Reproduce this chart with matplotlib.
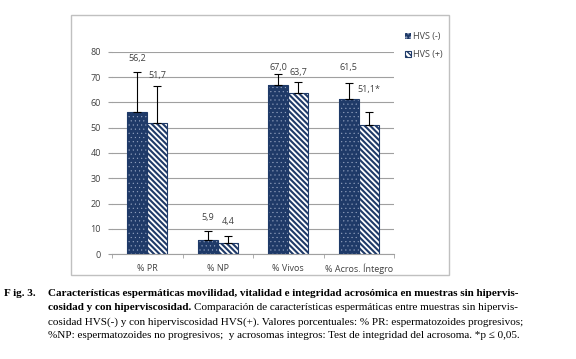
import matplotlib.pyplot as plt
import numpy as np
from matplotlib.patches import Rectangle

categories = ['% PR', '% NP', '% Vivos', '% Acros. Íntegro']
hvs_neg = [56.2, 5.6, 67.0, 61.5]
hvs_pos = [51.7, 4.2, 63.7, 51.1]
err_neg = [15.8, 3.4, 4.2, 6.2]
err_pos = [15.0, 2.8, 4.3, 5.1]
labels_neg = ['56,2', '5,9', '67,0', '61,5']
labels_pos = ['51,7', '4,4', '63,7', '51,1*']
label_y_neg = [77.5, 14.5, 73.8, 73.8]
label_y_pos = [70.5, 13.0, 71.7, 65.0]

navy = '#1f3a68'
txt = '#404040'

fig = plt.figure(figsize=(5.76, 3.59), dpi=100)
fig.patches.append(Rectangle((71 / 576, 1 - 275 / 359), 378 / 576, 260 / 359,
                             transform=fig.transFigure, fill=False,
                             edgecolor='#c0c0c0', linewidth=1.0))

ax = fig.add_axes([112 / 576, 1 - 254 / 359, 282 / 576, 202 / 359])
x = np.arange(len(categories))
w = 0.285

# dark bars with white dots
bars = ax.bar(x - w / 2, hvs_neg, w, color=navy, edgecolor='#9aa8c4', hatch='....',
              linewidth=0, zorder=3, label='HVS (-)')
for p in bars:
    p.set_hatch_linewidth(0.3)
ax.bar(x - w / 2, hvs_neg, w, fill=False, edgecolor=navy, linewidth=0.8, zorder=4)
# white bars with navy stripes
bars = ax.bar(x + w / 2, hvs_pos, w, color='white', edgecolor=navy, hatch='\\\\\\\\\\\\',
              linewidth=0.8, zorder=3, label='HVS (+)')
for p in bars:
    p.set_hatch_linewidth(1.5)

ax.errorbar(x - w / 2, hvs_neg, yerr=[np.zeros(4), err_neg], fmt='none',
            ecolor='black', elinewidth=0.8, capsize=3, capthick=0.8, zorder=5)
ax.errorbar(x + w / 2, hvs_pos, yerr=[np.zeros(4), err_pos], fmt='none',
            ecolor='black', elinewidth=0.8, capsize=3, capthick=0.8, zorder=5)

for i in range(len(categories)):
    ax.text(x[i] - w / 2, label_y_neg[i], labels_neg[i], ha='center', va='center',
            fontsize=6.5, color=txt, family='Open Sans')
    ax.text(x[i] + w / 2, label_y_pos[i], labels_pos[i], ha='center', va='center',
            fontsize=6.5, color=txt, family='Open Sans')

ax.set_ylim(0, 80)
ax.set_xlim(-0.5, 3.5)
ax.set_yticks(range(0, 81, 10))
ax.set_xticks(x)
ax.set_xticklabels(categories)
ax.set_xticks(np.arange(-0.5, 4, 1), minor=True)
ax.tick_params(axis='x', which='major', length=0, pad=7)
ax.tick_params(axis='x', which='minor', length=3, color='#a0a0a0')
ax.tick_params(axis='y', length=3, color='#a0a0a0', pad=5)
for lab in ax.get_xticklabels() + ax.get_yticklabels():
    lab.set_fontsize(6.5)
    lab.set_color(txt)
    lab.set_family('Open Sans')
ax.yaxis.grid(True, color='#a0a0a0', linewidth=0.8, zorder=0)
ax.set_axisbelow(True)
for s in ['top', 'right', 'left']:
    ax.spines[s].set_visible(False)
ax.spines['bottom'].set_color('#a0a0a0')

leg = fig.legend(loc='upper left', bbox_to_anchor=(397 / 576, 1 - 24 / 359),
                 frameon=False, handlelength=0.7, handleheight=0.7,
                 handletextpad=0.2, labelspacing=1.0,
                 prop={'family': 'Open Sans', 'size': 6.5})
for t in leg.get_texts():
    t.set_color(txt)

# caption
fs = 8
fig.text(4 / 576, 1 - 294 / 359, 'F ig. 3.', fontsize=fs, family='Liberation Serif',
         weight='bold', va='center')
x0 = 48 / 576
fig.text(x0, 1 - 294 / 359,
         'Características espermáticas movilidad, vitalidad e integridad acrosómica en muestras sin hipervis-',
         fontsize=fs, family='Liberation Serif', weight='bold', va='center')
b = fig.text(x0, 1 - 308 / 359, 'cosidad y con hiperviscosidad.', fontsize=fs,
             family='Liberation Serif', weight='bold', va='center')
r = fig.canvas.get_renderer()
bb = b.get_window_extent(r)
fig.text(bb.x1 / fig.bbox.width + 3 / 576, 1 - 308 / 359,
         'Comparación de características espermáticas entre muestras sin hipervis-',
         fontsize=fs, family='Liberation Serif', va='center')
fig.text(x0, 1 - 322 / 359,
         'cosidad HVS(-) y con hiperviscosidad HVS(+). Valores porcentuales: % PR: espermatozoides progresivos;',
         fontsize=fs, family='Liberation Serif', va='center')
fig.text(x0, 1 - 336 / 359,
         '%NP: espermatozoides no progresivos;  y acrosomas integros: Test de integridad del acrosoma. *p ≤ 0,05.',
         fontsize=fs, family='Liberation Serif', va='center')

fig.savefig('out.png', dpi=100)
